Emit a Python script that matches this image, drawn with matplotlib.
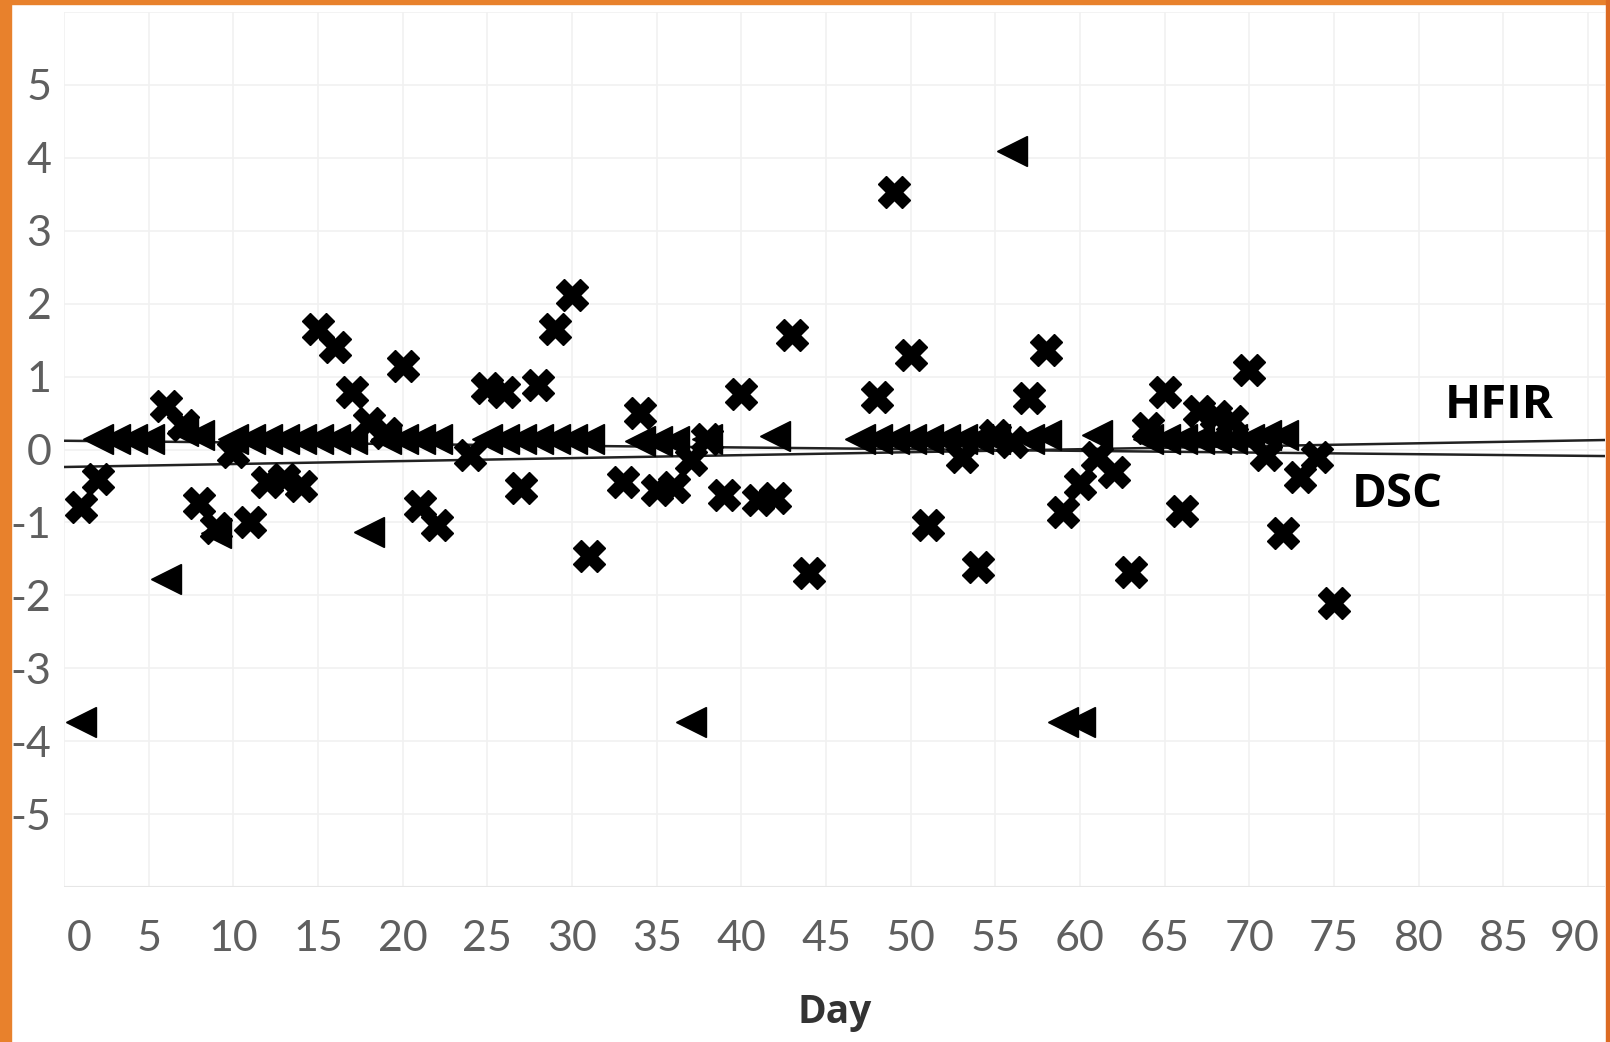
import numpy as np
import matplotlib
matplotlib.use('Agg')
from matplotlib import pyplot as plt
from matplotlib.patches import Rectangle
from matplotlib.transforms import ScaledTranslation

plt.rcParams['axes.unicode_minus'] = False

# DSC points (X markers)
dsc_days = [1, 2, 6, 7, 8, 9, 10, 11, 12, 13, 14, 15, 16, 17, 18, 19, 20, 21, 22,
            24, 25, 26, 27, 28, 29, 30, 31, 33, 34, 35, 36, 37, 38, 39, 40, 41, 42,
            43, 44, 48, 49, 50, 51, 53, 54, 55, 56, 57, 58, 59, 60, 61, 62, 63, 64,
            65, 66, 67, 68, 69, 70, 71, 72, 73, 74, 75]
dsc_vals = [-0.79, -0.40, 0.59, 0.33, -0.74, -1.07, -0.04, -1.00, -0.44, -0.40, -0.50,
            1.65, 1.40, 0.79, 0.37, 0.22, 1.14, -0.78, -1.03,
            -0.08, 0.84, 0.79, -0.53, 0.88, 1.65, 2.12, -1.46, -0.45, 0.50, -0.56,
            -0.52, -0.14, 0.15, -0.62, 0.76, -0.69, -0.66,
            1.57, -1.69, 0.72, 3.53, 1.29, -1.04, -0.10, -1.61, 0.20, 0.10, 0.70,
            1.36, -0.86, -0.47, -0.10, -0.31, -1.68, 0.30,
            0.79, -0.85, 0.53, 0.46, 0.39, 1.09, -0.08, -1.15, -0.38, -0.10, -2.10]

# HFIR points (triangle markers)
hfir_days = [1, 2, 3, 4, 5, 6, 7, 8, 9, 10, 11, 12, 13, 14, 15, 16, 17, 18, 19, 20,
             21, 22, 25, 26, 27, 28, 29, 30, 31, 34, 35, 36, 37, 38, 42, 47, 48, 49,
             50, 51, 52, 53, 54, 55, 56, 57, 58, 59, 60, 61, 64, 65, 66, 67, 68, 69,
             70, 71, 72]
hfir_vals = [-3.74, 0.15, 0.15, 0.15, 0.15, -1.77, 0.25, 0.20, -1.15, 0.15, 0.15, 0.15,
             0.15, 0.15, 0.15, 0.15, 0.15, -1.13, 0.15, 0.15,
             0.15, 0.15, 0.15, 0.15, 0.15, 0.15, 0.15, 0.15, 0.15, 0.12, 0.12, 0.12,
             -3.74, 0.15, 0.18, 0.15, 0.15, 0.15,
             0.15, 0.15, 0.15, 0.15, 0.15, 0.15, 4.10, 0.15, 0.20, -3.74, -3.74, 0.20,
             0.15, 0.15, 0.15, 0.15, 0.15, 0.15,
             0.15, 0.20, 0.20]

# trend lines: value at day 0 and at day 91
trend_days = [0, 91]
hfir_trend = [-0.24, 0.13]
dsc_trend = [0.12, -0.09]

x_ticks = list(range(0, 91, 5))
y_ticks = [-5, -4, -3, -2, -1, 0, 1, 2, 3, 4, 5]

W, H = 1610, 1042
fig = plt.figure(figsize=(W / 100, H / 100), dpi=100)
ax = fig.add_axes([64 / W, 155 / H, 1541 / W, 875 / H])

ax.set_xlim(0, 91)
ax.set_ylim(-6, 6)

for x in x_ticks:
    ax.axvline(x, color='#f1f1f1', lw=1.2, zorder=0)
for y in range(-6, 7):
    ax.axhline(y, color='#f1f1f1', lw=1.2, zorder=0)
ax.axhline(-6, color='#e6e6e6', lw=1.5, zorder=0)

ax.plot(trend_days, hfir_trend, color='#222222', lw=1.8, zorder=2)
ax.plot(trend_days, dsc_trend, color='#222222', lw=1.8, zorder=2)

ax.plot(hfir_days, hfir_vals, linestyle='none', marker='<', ms=22,
        color='black', mec='black', zorder=3)
ax.plot(dsc_days, dsc_vals, linestyle='none', marker='X', ms=23,
        color='black', mec='black', zorder=4)

for s in ax.spines.values():
    s.set_visible(False)

ax.set_xticks(x_ticks)
ax.set_yticks(y_ticks)
ax.set_xticklabels([str(t) for t in x_ticks])
ax.set_yticklabels([str(t) for t in y_ticks])
ax.tick_params(axis='both', length=0, colors='#5f5f5f', labelsize=31)
ax.tick_params(axis='x', pad=24)
ax.tick_params(axis='y', pad=9)
for lab in ax.get_xticklabels() + ax.get_yticklabels():
    lab.set_family('Lato')

xl = ax.get_xticklabels()
xl[0].set_transform(xl[0].get_transform() + ScaledTranslation(15 / 100, 0, fig.dpi_scale_trans))
xl[-1].set_transform(xl[-1].get_transform() + ScaledTranslation(-13 / 100, 0, fig.dpi_scale_trans))

ax.set_xlabel('Day', fontsize=28, fontweight='bold', color='#333333',
              family='Open Sans', labelpad=25)

ax.text(88.0, 0.60, 'HFIR', fontsize=34, fontweight='bold', family='Open Sans',
        ha='right', va='center', color='black')
ax.text(81.4, -0.62, 'DSC', fontsize=34, fontweight='bold', family='Open Sans',
        ha='right', va='center', color='black')

# orange frame
fig.patches.append(Rectangle((0, 0), 11 / W, 1, transform=fig.transFigure,
                             color='#E8812C', zorder=10))
fig.patches.append(Rectangle((0, 1 - 4 / H), 1, 4 / H, transform=fig.transFigure,
                             color='#E8812C', zorder=10))
fig.patches.append(Rectangle((1 - 4 / W, 0), 4 / W, 1, transform=fig.transFigure,
                             color='#DC6A22', zorder=10))

fig.savefig('out.png', dpi=100)
